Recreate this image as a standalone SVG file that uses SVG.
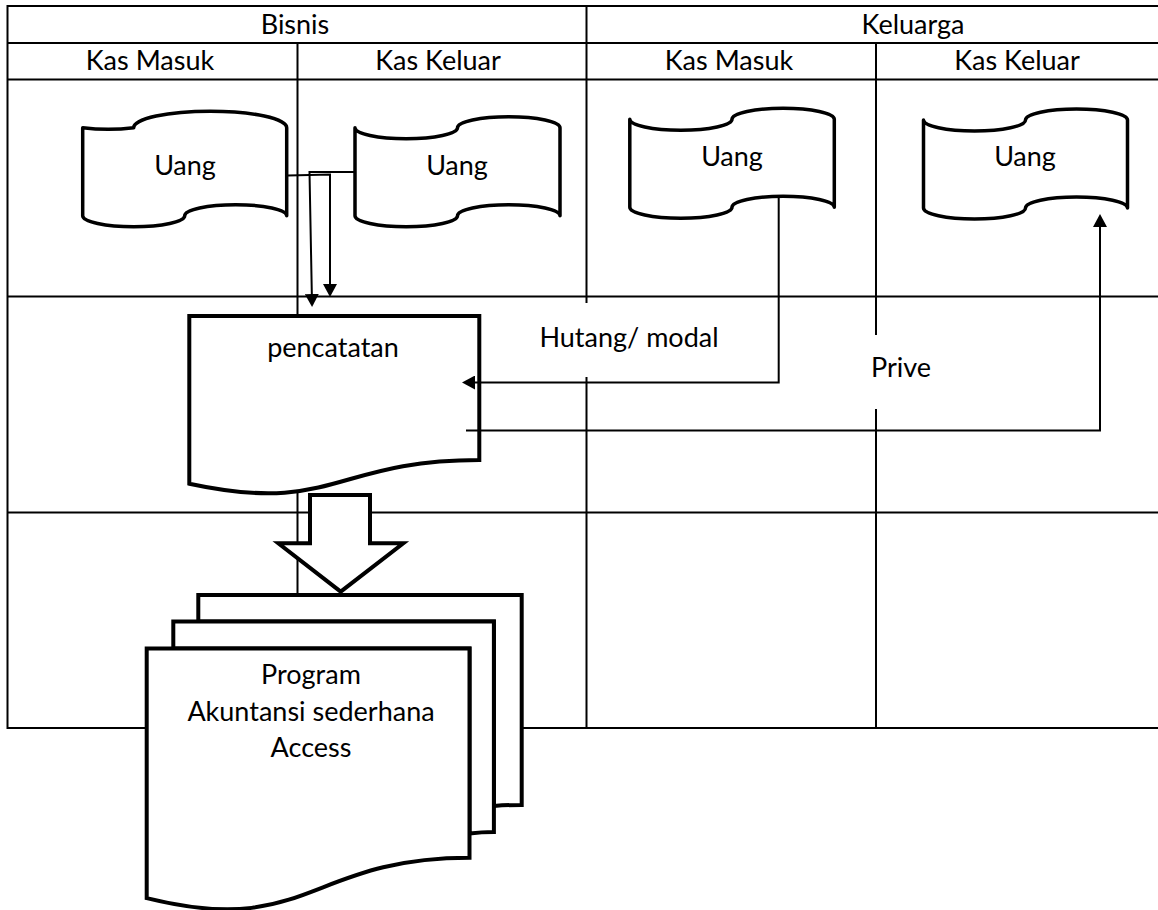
<svg xmlns="http://www.w3.org/2000/svg" width="1158" height="910" viewBox="0 0 1158 910">
  <style>
    .grid { stroke: #000; stroke-width: 2; fill: none; }
    .shape { stroke: #000; stroke-width: 3.5; fill: #fff; stroke-linejoin: round; }
    .doc { stroke: #000; stroke-width: 4; fill: #fff; stroke-linejoin: miter; }
    .conn { stroke: #000; stroke-width: 2; fill: none; }
    .t { font-family: Lato, "Liberation Sans", sans-serif; font-size: 27px; fill: #000; text-anchor: middle; }
  </style>
  <defs>
    <marker id="arr" viewBox="0 0 13 14" refX="9" refY="7" markerWidth="13" markerHeight="14" markerUnits="userSpaceOnUse" orient="auto">
      <path d="M0,0 L13,7 L0,14 Z" fill="#000"/>
    </marker>
  </defs>
  <rect width="1158" height="910" fill="#fff"/>

  <g id="table">
    <line class="grid" x1="7.5" y1="6" x2="1158" y2="6"/>
    <line class="grid" x1="7.5" y1="43" x2="1158" y2="43"/>
    <line class="grid" x1="7.5" y1="79.5" x2="1158" y2="79.5"/>
    <line class="grid" x1="7.5" y1="296.5" x2="1158" y2="296.5"/>
    <line class="grid" x1="7.5" y1="512.5" x2="1158" y2="512.5"/>
    <line class="grid" x1="7.5" y1="728" x2="1158" y2="728"/>
    <line class="grid" x1="7.5" y1="5" x2="7.5" y2="729"/>
    <line class="grid" x1="297.5" y1="43" x2="297.5" y2="728"/>
    <line class="grid" x1="586.5" y1="6" x2="586.5" y2="728"/>
    <line class="grid" x1="876" y1="43" x2="876" y2="728"/>
    <text class="t" x="295" y="34">Bisnis</text>
    <text class="t" x="913" y="34">Keluarga</text>
    <text class="t" x="150" y="70">Kas Masuk</text>
    <text class="t" x="438" y="70">Kas Keluar</text>
    <text class="t" x="729" y="70">Kas Masuk</text>
    <text class="t" x="1017" y="70">Kas Keluar</text>
  </g>

  <g id="label-hutang">
    <rect x="535" y="303" width="190" height="74" fill="#fff"/>
    <text class="t" x="629" y="347">Hutang/ modal</text>
  </g>
  <g id="label-prive">
    <rect x="866" y="335" width="72" height="74" fill="#fff"/>
    <text class="t" x="901" y="377">Prive</text>
  </g>

  <g id="uang-bisnis-masuk">
    <path class="shape" d="M82.7,127.7 A51,11 0 0 0 133.7,127.7 A51,11 0 0 1 286.7,127.7 L286.7,215.7 A51,11 0 0 0 184.7,215.7 A51,11 0 0 1 82.7,215.7 Z"/>
    <text class="t" x="185" y="175">Uang</text>
  </g>
  <g id="uang-bisnis-keluar">
    <path class="shape" d="M355,127.7 A51.25,11 0 0 0 457.5,127.7 A51.25,11 0 0 1 560,127.7 L560,215.7 A51.25,11 0 0 0 457.5,215.7 A51.25,11 0 0 1 355,215.7 Z"/>
    <text class="t" x="457" y="175">Uang</text>
  </g>
  <g id="uang-keluarga-masuk">
    <path class="shape" d="M629.8,119.3 A51.1,11 0 0 0 732,119.3 A51.1,11 0 0 1 834.3,119.3 L834.3,207.3 A51.1,11 0 0 0 732,207.3 A51.1,11 0 0 1 629.8,207.3 Z"/>
    <text class="t" x="732" y="166">Uang</text>
  </g>
  <g id="uang-keluarga-keluar">
    <path class="shape" d="M923.5,120 A51,11 0 0 0 1025.5,120 A51,11 0 0 1 1127.5,120 L1127.5,208 A51,11 0 0 0 1025.5,208 A51,11 0 0 1 923.5,208 Z"/>
    <text class="t" x="1025" y="166">Uang</text>
  </g>

  <g id="pencatatan">
    <path class="doc" d="M189.3,316 L479.3,316 L479.3,460 C334.3,460 334.3,514.9 189.3,483.7 Z"/>
    <text class="t" x="333" y="357">pencatatan</text>
  </g>

  <g id="block-arrow">
    <path class="doc" d="M310,495 L370,495 L370,543.3 L403.3,543.3 L340.7,591.7 L278.3,543.3 L310,543.3 Z"/>
  </g>

  <g id="program-akuntansi">
    <path class="doc" d="M198.3,621.5 L198.3,595 L521.7,595 L521.7,804.9 C507.8,804.9 493.9,806 493.9,806 L493.9,621.5 Z"/>
    <path class="doc" d="M173.3,648.6 L173.3,621.5 L493.9,621.5 L493.9,832 C481.7,832 469.5,833.5 469.5,833.5 L469.5,648.6 Z"/>
    <path class="doc" d="M146.7,898.1 C308.1,938.3 308.1,857.8 469.5,857.8 L469.5,648.6 L146.7,648.6 Z"/>
    <text class="t" x="311" y="684">Program</text>
    <text class="t" x="311" y="720.5">Akuntansi sederhana</text>
    <text class="t" x="311" y="756.5">Access</text>
  </g>

  <g id="connectors">
    <path class="conn" d="M288,175.5 L330,174.5 L330,293" marker-end="url(#arr)"/>
    <path class="conn" d="M355,172 L309.5,172 L312,303" marker-end="url(#arr)"/>
    <path class="conn" d="M778.7,196.5 L778.7,382.5 L466,382.5" marker-end="url(#arr)"/>
    <path class="conn" d="M466,430.5 L1100,430.5 L1100,218" marker-end="url(#arr)"/>
  </g>
</svg>
